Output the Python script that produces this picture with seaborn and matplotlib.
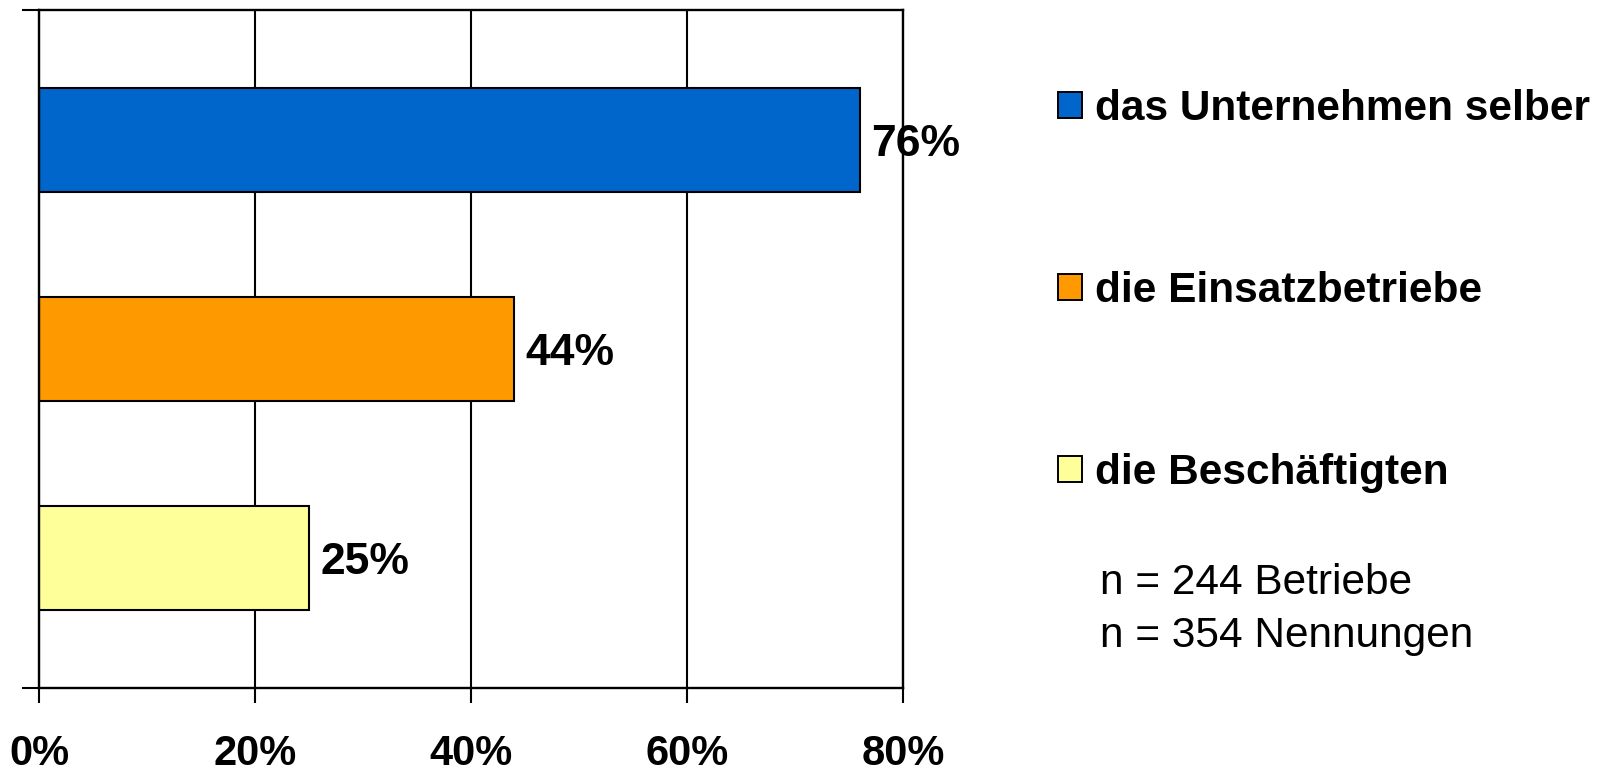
import matplotlib
matplotlib.use("Agg")
import matplotlib.pyplot as plt
from matplotlib import font_manager
from matplotlib.patches import Patch
import seaborn as sns
import pandas as pd

# Who bears the costs — shares of mentions
categories = ["das Unternehmen selber", "die Einsatzbetriebe", "die Beschäftigten"]
shares = [76, 44, 25]
colors = ["#0066CC", "#FF9900", "#FFFF99"]
x_ticks = [0, 20, 40, 60, 80]
x_tick_labels = ["0%", "20%", "40%", "60%", "80%"]
notes = ["n = 244 Betriebe", "n = 354 Nennungen"]

sns.set_theme(style="white")
plt.rcParams["font.family"] = ["Liberation Sans", "DejaVu Sans"]
plt.rcParams["text.color"] = "black"
plt.rcParams["xtick.color"] = "black"
plt.rcParams["ytick.color"] = "black"

installed = {f.name for f in font_manager.fontManager.ttflist}
narrow = "Liberation Sans Narrow" if "Liberation Sans Narrow" in installed else "Liberation Sans"

df = pd.DataFrame({"Kategorie": categories, "Anteil": shares})

fig = plt.figure(figsize=(15.98, 7.73), dpi=100)
ax = fig.add_axes([0.0244, 0.110, 0.5407, 0.877])

sns.barplot(
    data=df, x="Anteil", y="Kategorie", hue="Kategorie",
    palette=colors, saturation=1, orient="h", width=0.5, dodge=False,
    edgecolor="black", linewidth=1.5, legend=False, ax=ax,
)

ax.set_xlim(0, 80)
ax.set_ylim(2.622, -0.622)
ax.set_xlabel("")
ax.set_ylabel("")

ax.set_xticks(x_ticks)
ax.set_xticklabels(x_tick_labels, fontsize=30, fontweight="bold", family=narrow, color="black")
ax.set_yticks(list(ax.get_ylim()))
ax.set_yticklabels(["", ""])
ax.tick_params(axis="x", direction="out", length=11, width=1.5, color="black", pad=22, bottom=True)
ax.tick_params(axis="y", direction="out", length=12, width=1.5, color="black", left=True)

ax.xaxis.grid(True, color="black", linewidth=1.5)
ax.yaxis.grid(False)
ax.set_axisbelow(True)
for side in ["left", "right", "top", "bottom"]:
    ax.spines[side].set_visible(True)
    ax.spines[side].set_color("black")
    ax.spines[side].set_linewidth(1.7)

for container in ax.containers:
    labels = ax.bar_label(container, labels=[f"{v:.0f}%" for v in container.datavalues],
                          padding=8, fontsize=32, fontweight="bold", color="black")
    for lbl in labels:
        lbl.set_verticalalignment("center_baseline")

handles = [Patch(facecolor=c, edgecolor="black", linewidth=1.4) for c in colors]
leg = fig.legend(
    handles, categories, loc="upper left", bbox_to_anchor=(0.662, 0.885),
    frameon=False, prop={"weight": "bold", "size": 30.5},
    handlelength=0.58, handleheight=0.58, handletextpad=0.3, labelspacing=3.35,
    borderaxespad=0, borderpad=0,
)
for t in leg.get_texts():
    t.set_color("black")

fig.text(1100 / 1598, 1 - 583 / 773, notes[0], fontsize=30.5, va="center", ha="left", color="black")
fig.text(1100 / 1598, 1 - 636 / 773, notes[1], fontsize=30.5, va="center", ha="left", color="black")

fig.savefig("out.png", dpi=100, facecolor="white")
